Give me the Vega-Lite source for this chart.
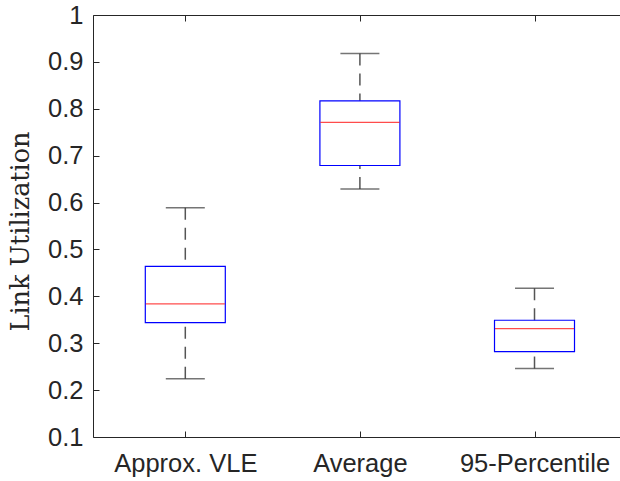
{
  "$schema": "https://vega.github.io/schema/vega-lite/v6.json",
  "autosize": "none",
  "padding": {"left": 93, "top": 15, "right": 0, "bottom": 42},
  "width": 527,
  "height": 422,
  "background": "white",
  "config": {
    "view": {"stroke": null},
    "axis": {
      "labelFont": "Liberation Sans",
      "labelFontSize": 25.5,
      "labelColor": "#262626",
      "domainColor": "#262626",
      "tickColor": "#262626",
      "grid": false
    }
  },
  "data": {
    "values": [
      {"i": 1, "name": "Approx. VLE", "lo": 0.224, "q1": 0.344, "med": 0.384, "q3": 0.464, "hi": 0.589},
      {"i": 2, "name": "Average", "lo": 0.629, "q1": 0.679, "med": 0.771, "q3": 0.817, "hi": 0.918},
      {"i": 3, "name": "95-Percentile", "lo": 0.246, "q1": 0.282, "med": 0.331, "q3": 0.349, "hi": 0.417}
    ]
  },
  "resolve": {"axis": {"x": "independent", "y": "independent"}},
  "layer": [
    {
      "mark": {"type": "rule", "color": "#555555", "strokeWidth": 1.5, "strokeDash": [12, 8]},
      "encoding": {
        "x": {"field": "i", "type": "quantitative",
          "scale": {"domain": [0.5, 3.461], "nice": false, "zero": false},
          "axis": {"orient": "bottom", "values": [1, 2, 3], "ticks": false, "labelPadding": 14,
            "labelExpr": "datum.value == 1 ? 'Approx. VLE' : datum.value == 2 ? 'Average' : '95-Percentile'",
            "title": null}},
        "y": {"field": "hi", "type": "quantitative",
          "scale": {"domain": [0.1, 1], "nice": false, "zero": false},
          "axis": {"values": [0.1, 0.2, 0.3, 0.4, 0.5, 0.6, 0.7, 0.8, 0.9, 1], "format": ".1~f",
            "ticks": false, "labelPadding": 10,
            "title": "Link Utilization", "titleFont": "DejaVu Serif", "titleFontSize": 25.5,
            "titleFontWeight": "normal", "titleColor": "#262626",
            "titleAngle": 270, "titleX": -65, "titleY": 216, "titleAlign": "center", "titleBaseline": "alphabetic"}},
        "y2": {"field": "q3"}
      }
    },
    {
      "mark": {"type": "rule", "color": "#555555", "strokeWidth": 1.5, "strokeDash": [12, 8]},
      "encoding": {
        "x": {"field": "i", "type": "quantitative",
          "axis": {"orient": "top", "values": [1, 2, 3], "ticks": false, "labels": false, "title": null}},
        "y": {"field": "lo", "type": "quantitative",
          "axis": {"orient": "left", "offset": -6, "values": [0.1, 0.2, 0.3, 0.4, 0.5, 0.6, 0.7, 0.8, 0.9, 1],
            "tickSize": 6, "domain": false, "labels": false, "title": null}},
        "y2": {"field": "q1"}
      }
    },
    {
      "mark": {"type": "tick", "orient": "horizontal", "size": 39, "thickness": 1.5, "color": "#3a3a3a"},
      "encoding": {
        "x": {"field": "i", "type": "quantitative",
          "axis": {"orient": "top", "offset": -6, "values": [1, 2, 3], "tickSize": 6, "domain": false, "labels": false, "title": null}},
        "y": {"field": "hi", "type": "quantitative", "axis": null}
      }
    },
    {
      "mark": {"type": "tick", "orient": "horizontal", "size": 39, "thickness": 1.5, "color": "#3a3a3a"},
      "encoding": {
        "x": {"field": "i", "type": "quantitative",
          "axis": {"orient": "bottom", "offset": -6, "values": [1, 2, 3], "tickSize": 6, "domain": false, "labels": false, "title": null}},
        "y": {"field": "lo", "type": "quantitative", "axis": null}
      }
    },
    {
      "mark": {"type": "bar", "width": 80, "fill": "white", "fillOpacity": 0, "stroke": "#0000ff", "strokeWidth": 1.2},
      "encoding": {
        "x": {"field": "i", "type": "quantitative", "axis": null},
        "y": {"field": "q1", "type": "quantitative", "axis": null},
        "y2": {"field": "q3"}
      }
    },
    {
      "mark": {"type": "tick", "orient": "horizontal", "size": 79, "thickness": 1.2, "color": "#ff0000"},
      "encoding": {
        "x": {"field": "i", "type": "quantitative", "axis": null},
        "y": {"field": "med", "type": "quantitative", "axis": null}
      }
    }
  ]
}
